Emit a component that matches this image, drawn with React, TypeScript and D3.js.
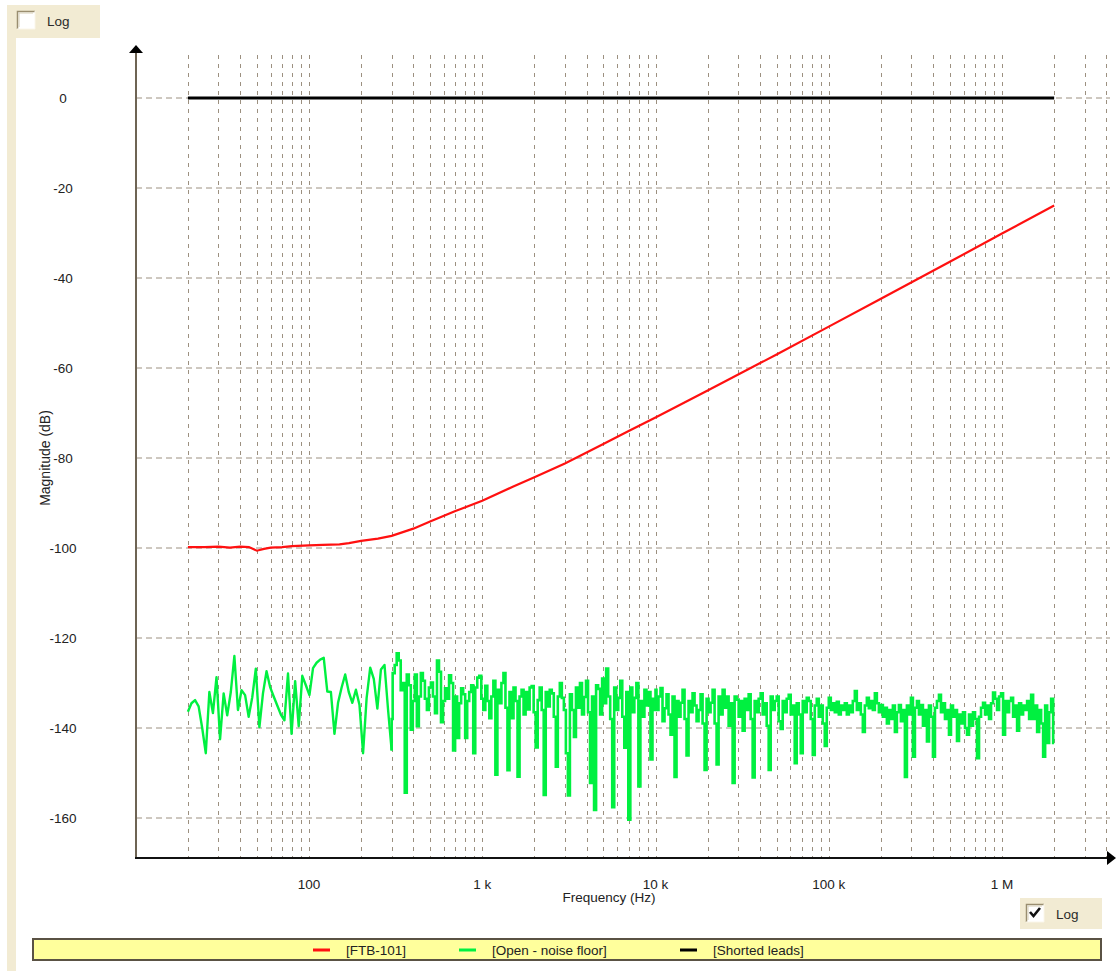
import * as d3 from "d3";

// ---- data ----
const X_TICKS = [100, 1000, 10000, 100000, 1000000];
const X_TICK_LABELS = ["100", "1 k", "10 k", "100 k", "1 M"];
const Y_TICKS = [0, -20, -40, -60, -80, -100, -120, -140, -160];

const RED_FREQ = [
  20, 25, 30, 35, 40, 45, 50, 55, 60, 70, 80, 100, 120, 150, 170, 200, 250, 300, 400, 500,
  700, 1000, 1500, 2000, 3000, 5000, 7000, 10000, 20000, 50000, 100000, 200000, 500000,
  1000000, 2000000,
];
const RED_DB = [
  -99.8, -99.8, -99.7, -99.9, -99.7, -99.8, -100.6, -100.2, -99.9, -99.8, -99.6, -99.4, -99.3,
  -99.2, -98.9, -98.4, -97.9, -97.3, -95.7, -94.1, -91.8, -89.5, -86.4, -84.3, -81.2, -76.9,
  -74.0, -71.0, -65.0, -57.0, -50.8, -44.6, -36.4, -30.1, -23.9,
];

const SHORTED_FREQ = [20, 2000000];
const SHORTED_DB = [0, 0];

// noise floor, three sweep bands (sample count differs per band)
const GREEN_LO = [
  -136.4, -134.5, -133.8, -135.2, -140.0, -145.6, -132.0, -136.7, -128.7, -142.5,
  -132.3, -137.2, -132.0, -124.0, -136.0, -131.6, -132.7, -137.5, -133.2, -126.8,
  -139.8, -132.3, -127.4, -130.9, -133.0, -135.0, -137.0, -138.3, -127.9, -141.3,
  -129.6, -139.6, -128.4, -130.5, -132.7, -126.7, -125.5, -124.8, -124.4, -131.9,
  -132.0, -141.3, -134.4, -131.0, -128.1, -132.0, -134.4, -131.5, -134.9, -145.6,
  -133.3, -126.6, -129.1, -135.7, -127.0, -126.0, -136.0, -145.0,
];
const GREEN_MID = [
  -138.0, -127.8, -126.0, -123.4, -125.0, -131.6, -130.0, -154.4, -128.1, -130.5,
  -140.4, -134.0, -128.1, -139.6, -133.0, -127.8, -129.5, -133.5, -136.0, -131.0,
  -129.9, -133.0, -136.7, -125.0, -127.5, -138.7, -134.0, -131.2, -133.5, -128.3,
  -130.0, -145.0, -133.0, -142.2, -134.5, -131.2, -132.5, -142.2, -134.0, -132.0,
  -130.5, -145.6, -131.0, -128.8, -128.4, -133.5, -136.0, -130.6, -134.0, -137.8,
  -133.0, -129.5, -150.4, -131.5, -134.5, -130.0, -127.8, -135.5, -149.4, -132.0,
  -137.8, -131.0, -134.0, -150.8, -133.0, -131.5, -137.0, -132.0, -135.9, -131.0,
  -130.7, -136.5, -144.3, -133.8, -131.0, -136.0, -154.9, -132.0, -135.2, -131.5,
  -132.3, -137.5, -148.6, -133.0, -130.0, -133.3, -136.0, -145.6, -155.0, -132.5,
  -136.0, -142.0, -131.0, -135.5, -130.0, -137.0, -133.1, -129.5, -136.5, -152.2,
  -133.0, -158.2, -130.5, -131.3, -137.0, -129.0, -134.5, -126.8, -133.0, -138.0,
  -157.6, -131.0, -136.0, -133.3, -129.5, -137.5, -144.4, -132.0, -160.4, -131.0,
  -136.5, -133.3, -130.0, -153.0, -134.0, -137.5, -131.5, -135.0, -132.0, -147.0,
  -133.5, -136.0,
];
const GREEN_HI = [
  -131.5, -136.0, -133.0, -131.1, -138.5, -135.6, -132.5, -137.0, -141.5, -133.0,
  -150.9, -134.0, -137.5, -134.4, -131.5, -138.0, -146.1, -134.0, -136.5, -132.3,
  -135.0, -138.5, -136.0, -132.5, -139.0, -149.3, -133.5, -136.5, -134.4, -131.5,
  -139.0, -148.1, -133.0, -137.0, -131.5, -135.5, -133.0, -139.5, -134.5, -152.2,
  -133.0, -133.7, -137.5, -134.0, -140.6, -133.5, -136.0, -132.5, -138.0, -151.0,
  -134.0, -136.5, -133.5, -132.3, -137.0, -134.5, -139.5, -149.3, -133.0, -136.0,
  -134.0, -133.0, -138.5, -140.2, -134.0, -136.5, -133.5, -132.6, -137.0, -135.0,
  -147.8, -134.5, -137.0, -145.6, -134.0, -136.5, -133.3, -134.0, -138.0, -146.0,
  -135.0, -133.5, -137.5, -135.0, -139.0, -144.0, -135.5, -133.3, -136.0, -134.5,
  -136.5, -134.2, -137.0, -135.0, -136.0, -134.5, -137.0, -135.0, -136.5, -134.0,
  -131.8, -136.0, -134.5, -137.0, -140.9, -135.0, -133.3, -135.6, -134.0, -136.0,
  -132.3, -134.5, -136.5, -134.9, -137.5, -135.5, -139.0, -136.0, -138.0, -135.0,
  -140.9, -136.5, -134.9, -138.5, -136.0, -150.9, -135.0, -137.0, -133.3, -146.4,
  -135.5, -134.0, -137.0, -134.9, -139.5, -136.0, -143.0, -135.0, -137.5, -146.4,
  -135.5, -134.0, -132.6, -136.5, -134.5, -138.0, -136.0, -141.5, -135.0, -137.5,
  -136.0, -142.9, -137.0, -139.0, -136.5, -140.0, -141.5, -137.0, -139.5, -136.5,
  -138.0, -146.7, -137.5, -135.5, -134.4, -137.0, -135.0, -138.0, -134.5, -132.1,
  -133.5, -136.0, -133.0, -132.3, -141.5, -134.0, -136.5, -134.0, -133.3, -137.5,
  -135.0, -140.6, -134.5, -137.0, -135.0, -136.0, -134.0, -138.0, -132.6, -138.0,
  -135.0, -140.9, -136.0, -139.0, -146.4, -135.0, -143.3, -136.5, -133.5, -143.3,
];
const GREEN_BANDS: [number, number, number[]][] = [
  [20, 300, GREEN_LO],
  [300, 10000, GREEN_MID],
  [10000, 2000000, GREEN_HI],
];

const LEGEND = [
  { label: "[FTB-101]", color: "#ff1010" },
  { label: "[Open - noise floor]", color: "#00f040" },
  { label: "[Shorted leads]", color: "#000000" },
];

// ---- layout ----
const W = 1116;
const H = 971;
const FONT = "'Liberation Sans', Arial, sans-serif";
const GRID = "#9c9080";
const PANEL = "#f2ebd3";

const x = d3.scaleLog().domain([10, 1e6]).range([135.75, 1002]);
const y = d3.scaleLinear().domain([0, -160]).range([98, 818]);
const axisY = 858;
const gridRight = 1110;
const gridTop = 55;

type Pt = { f: number; v: number };
const line = d3
  .line<Pt>()
  .x((d) => x(d.f))
  .y((d) => y(d.v));
const stepLine = d3
  .line<Pt>()
  .x((d) => x(d.f))
  .y((d) => y(d.v))
  .curve(d3.curveStep);

const redPts: Pt[] = RED_FREQ.map((f, i) => ({ f, v: RED_DB[i] }));
const blackPts: Pt[] = SHORTED_FREQ.map((f, i) => ({ f, v: SHORTED_DB[i] }));
// sweep points are log spaced inside each band
const greenLo: Pt[] = [];
const greenHi: Pt[] = [];
GREEN_BANDS.forEach(([f0, f1, vals], b) => {
  const lg = d3.scaleLinear().domain([0, vals.length - 1]).range([Math.log10(f0), Math.log10(f1)]);
  vals.forEach((v, i) => (b === 0 ? greenLo : greenHi).push({ f: Math.pow(10, lg(i)), v }));
});
// join the sparse and dense parts of the trace
greenHi.unshift(greenLo[greenLo.length - 1]);

// vertical grid: 1..9 times each decade
const vGrid: number[] = [];
for (let dec = 10; dec <= 1e6; dec *= 10) {
  for (let m = 1; m <= 9; m++) {
    const f = dec * m;
    if (f > 10 && x(f) < gridRight) vGrid.push(f);
  }
}

function CheckBox({ bx, by, checked }: { bx: number; by: number; checked: boolean }) {
  return (
    <g>
      <rect x={bx} y={by} width={18} height={18} fill="#ffffff" />
      <path d={`M${bx + 0.5},${by + 18} V${by + 0.5} H${bx + 18}`} stroke="#9a8e70" strokeWidth={1.5} fill="none" />
      <path d={`M${bx + 2},${by + 16} V${by + 2} H${bx + 16}`} stroke="#d8d0b8" strokeWidth={1} fill="none" />
      <path d={`M${bx + 18},${by} V${by + 18} H${bx}`} stroke="#faf6ea" strokeWidth={1} fill="none" />
      {checked && (
        <path
          d={`M${bx + 4},${by + 8} L${bx + 7.5},${by + 12} L${bx + 14},${by + 4}`}
          stroke="#111"
          strokeWidth={2.6}
          fill="none"
        />
      )}
    </g>
  );
}

export default function App() {
  return (
    <svg
      width={W}
      height={H}
      style={{ position: "absolute", left: 0, top: 0, background: "#fff" }}
      fontFamily={FONT}
    >
      {/* side panels */}
      <rect x={7} y={5} width={9} height={H - 5} fill={PANEL} />
      <rect x={7} y={5} width={93} height={33} fill={PANEL} />
      <CheckBox bx={17} by={11} checked={false} />
      <text x={47} y={26} fontSize={13.5} fill="#2a2a2a" fontFamily={FONT}>
        Log
      </text>

      <rect x={1020} y={898} width={82} height={31} fill={PANEL} />
      <CheckBox bx={1026} by={904} checked={true} />
      <text x={1056} y={919} fontSize={13.5} fill="#2a2a2a" fontFamily={FONT}>
        Log
      </text>

      {/* grid */}
      {Y_TICKS.map((t) => (
        <line key={`h${t}`} x1={136} x2={gridRight} y1={y(t)} y2={y(t)} stroke={GRID} strokeDasharray="6 4" />
      ))}
      {vGrid.map((f) => (
        <line
          key={`v${f}`}
          x1={Math.round(x(f)) + 0.5}
          x2={Math.round(x(f)) + 0.5}
          y1={gridTop}
          y2={axisY}
          stroke={GRID}
          strokeDasharray="4 5"
        />
      ))}

      {/* series */}
      <path d={line(greenLo) ?? ""} fill="none" stroke="#00f040" strokeWidth={2.4} strokeLinejoin="round" />
      <path d={stepLine(greenHi) ?? ""} fill="none" stroke="#00f040" strokeWidth={2.6} />
      <path d={line(redPts) ?? ""} fill="none" stroke="#ff1010" strokeWidth={2.2} />
      <path d={line(blackPts) ?? ""} fill="none" stroke="#000" strokeWidth={3} />

      {/* axes */}
      <line x1={136} x2={136} y1={axisY + 1} y2={50} stroke="#6e6454" strokeWidth={2} />
      <path d="M129,53 L136,45 L143,53 Z" fill="#000" />
      <line x1={135} x2={1108} y1={axisY} y2={axisY} stroke="#111" strokeWidth={2} />
      <path d="M1107,851 L1116,858 L1107,865 Z" fill="#000" />

      {Y_TICKS.map((t) => (
        <text key={`yl${t}`} x={63} y={y(t) + 5} textAnchor="middle" fontSize={13.5} fill="#222">
          {t}
        </text>
      ))}
      {X_TICKS.map((t, i) => (
        <text key={`xl${t}`} x={x(t)} y={889} textAnchor="middle" fontSize={13.5} fill="#222">
          {X_TICK_LABELS[i]}
        </text>
      ))}
      <text x={609} y={902} textAnchor="middle" fontSize={13.5} fill="#222">
        Frequency (Hz)
      </text>
      <text transform="translate(50,458) rotate(-90)" textAnchor="middle" fontSize={14} fill="#222">
        Magnitude (dB)
      </text>

      {/* legend */}
      <rect x={33} y={939} width={1068} height={21} fill="#ffff9c" stroke="#5a5244" strokeWidth={2} />
      {LEGEND.map((l, i) => {
        const lx = [313, 459, 680][i];
        return (
          <g key={l.label}>
            <line x1={lx} x2={lx + 17} y1={950} y2={950} stroke={l.color} strokeWidth={3} />
            <text x={lx + 33} y={955} fontSize={13.5} fill="#222">
              {l.label}
            </text>
          </g>
        );
      })}
    </svg>
  );
}
